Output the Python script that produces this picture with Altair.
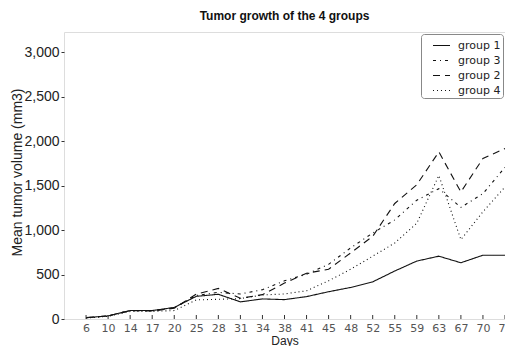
import altair as alt
import pandas as pd

days = [6, 10, 14, 17, 20, 25, 28, 31, 34, 38, 41, 45, 48, 52, 55, 59, 63, 67, 70, 74]
group1 = [15, 35, 95, 95, 130, 255, 278, 193, 226, 218, 252, 307, 355, 418, 540, 652, 707, 633, 718, 718]
group2 = [15, 35, 95, 90, 120, 280, 344, 233, 274, 404, 515, 560, 744, 930, 1300, 1511, 1881, 1430, 1807, 1918]
group3 = [15, 35, 95, 95, 125, 265, 300, 282, 330, 430, 504, 615, 800, 967, 1115, 1337, 1467, 1256, 1411, 1707]
group4 = [10, 30, 85, 85, 95, 215, 222, 230, 270, 282, 318, 430, 560, 707, 855, 1078, 1615, 893, 1207, 1485]
yticks = [0, 500, 1000, 1500, 2000, 2500, 3000]

order = ["group 1", "group 3", "group 2", "group 4"]
series = {"group 1": group1, "group 2": group2, "group 3": group3, "group 4": group4}

rows = []
for g, vals in series.items():
    for i, (d, v) in enumerate(zip(days, vals)):
        rows.append({"idx": i, "day": d, "group": g, "value": v})
df = pd.DataFrame(rows)

label_expr = "[" + ",".join("'%d'" % d for d in days) + "][datum.value]"
xscale = alt.Scale(domain=[-1, len(days) - 1], nice=False, zero=False)

x = alt.X("idx:Q", scale=xscale,
          axis=alt.Axis(values=list(range(len(days))), labelExpr=label_expr, title="Days",
                        grid=False, domain=False, ticks=False, labelPadding=3,
                        labelOverlap=False, labelFlush=False,
                        labelFont="DejaVu Sans", labelFontSize=11, labelColor="#555555",
                        titleFont="Liberation Sans", titleFontSize=12, titleFontWeight="normal",
                        titleColor="#222222", titlePadding=2))
y = alt.Y("value:Q",
          scale=alt.Scale(domain=[0, 3230], nice=False),
          axis=alt.Axis(values=yticks, labelExpr="format(datum.value, ',d')",
                        title="Mean tumor volume (mm3)", grid=False, domain=False,
                        tickSize=3, tickColor="#333333", labelPadding=2,
                        labelOverlap=False, labelFlush=False,
                        labelFont="Liberation Sans", labelFontSize=14, labelColor="#222222",
                        titleFont="Liberation Sans", titleFontSize=14, titleFontWeight="normal",
                        titleColor="#222222", titleX=-47, titleY=140, titleAngle=270,
                        titleAlign="center", titleBaseline="middle"))

lines = alt.Chart(df).mark_line(strokeWidth=1.1, color="#111111").encode(
    x=x, y=y,
    strokeDash=alt.StrokeDash("group:N",
        scale=alt.Scale(domain=order, range=[[1, 0], [3, 4, 1, 4], [7, 5], [1, 3]]),
        legend=alt.Legend(title=None, orient="top-right", offset=2,
                          symbolType="stroke", symbolSize=289, symbolStrokeWidth=1.2,
                          symbolStrokeColor="#111111", labelFont="DejaVu Sans",
                          labelFontSize=11, labelColor="#222222", rowPadding=0,
                          symbolOffset=9, labelOffset=7,
                          fillColor="white", strokeColor="#888888", cornerRadius=3,
                          padding=2)),
    detail="group:N",
    order="idx:Q",
)

xticks = alt.Chart(pd.DataFrame({"idx": list(range(len(days)))})).mark_rule(
    color="#333333", strokeWidth=1).encode(
    x=x,
    y=alt.value(287), y2=alt.value(283))

chart = alt.layer(lines, xticks).properties(
    width=441, height=287,
    title=alt.TitleParams("Tumor growth of the 4 groups", font="Liberation Sans",
                          fontSize=12, fontWeight="bold", color="#111111", offset=9),
    autosize=alt.AutoSizeParams(type="none"),
    padding={"left": 56, "top": 24, "right": 0, "bottom": 27},
).configure_view(stroke="#222222", strokeWidth=1.2).configure(background="white")

chart.save("out.html", embed_options={"renderer": "svg", "actions": False})
